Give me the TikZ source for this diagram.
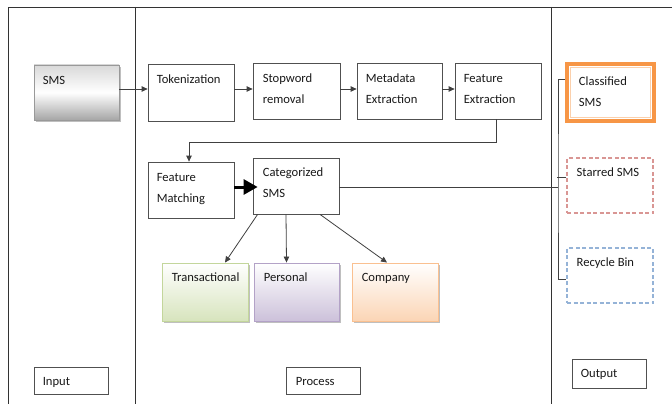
\documentclass[tikz,border=0pt]{standalone}
\usepackage{fontspec}
\setmainfont{Carlito}
\usetikzlibrary{arrows.meta,shadows,calc}
\definecolor{lin}{HTML}{404040}
\definecolor{boxc}{HTML}{505050}
\definecolor{orng}{HTML}{F79646}
\definecolor{grnB}{HTML}{C3D69B}
\definecolor{grnF}{HTML}{D7E4BD}
\definecolor{purB}{HTML}{B3A2C7}
\definecolor{purF}{HTML}{CCC1DA}
\definecolor{pchB}{HTML}{FAC090}
\definecolor{pchF}{HTML}{FBD5B5}
\definecolor{redD}{HTML}{D99694}
\definecolor{bluD}{HTML}{95B3D7}
\newcommand\twoln[2]{\parbox[t]{90pt}{#1\\#2}}
\begin{document}
\begin{tikzpicture}[x=1pt,y=-1pt,
  box/.style={draw=boxc, line width=0.8pt, fill=white, rectangle, inner sep=0pt, minimum width=86pt, minimum height=56pt},
  smallbox/.style={box, minimum width=74pt, minimum height=27pt},
  txt/.style={anchor=base west, inner sep=0pt, font=\fontsize{12.6}{21}\selectfont, text=black!90},
  conn/.style={draw=lin, line width=0.8pt},
  arr/.style={conn, -{Triangle[length=6pt,width=5.5pt]}},
  shd/.style={drop shadow={shadow xshift=1.5pt, shadow yshift=-1.8pt, fill=black, opacity=0.25}},
  grad/.style 2 args={draw=#1, line width=0.9pt, rectangle, minimum width=86pt, minimum height=58pt, top color=white, bottom color=#2, shd},
  dashbox/.style={draw=#1, line width=1.1pt, dash pattern=on 4pt off 2.5pt, rectangle, fill=white, minimum width=86pt, minimum height=55pt}
]
\useasboundingbox (0,0) rectangle (672,404);
\fill[white] (0,0) rectangle (672,404);

% frame
\draw[draw=black!80, line width=0.9pt] (8,404) -- (8,7) -- (672,7);
\draw[draw=black!80, line width=0.9pt] (135,7) -- (135,404);
\draw[draw=black!80, line width=0.9pt] (551,7) -- (551,404);

% input column
\node[box, draw=gray!80, minimum width=85pt, minimum height=55pt, top color=gray!30, bottom color=gray!70, middle color=white, shd] (sms) at (76.5,92.5) {};
\node[txt] (smsT) at ([shift={(9pt,-20pt)}]sms.north west) {SMS};
\node[smallbox] (inp) at (71,380.5) {};
\node[txt] (inpT) at ([shift={(9pt,-19pt)}]inp.north west) {Input};

% process column
\node[box, minimum height=57pt] (tok) at (191,92.5) {};
\node[txt] (tokT) at ([shift={(9pt,-20pt)}]tok.north west) {Tokenization};
\node[box, minimum width=87pt] (stop) at (296.5,91) {};
\node[txt] (stopT) at ([shift={(10pt,-20pt)}]stop.north west) {\twoln{Stopword}{removal}};
\node[box, minimum width=85pt] (meta) at (399.5,91) {};
\node[txt] (metaT) at ([shift={(9pt,-20pt)}]meta.north west) {\twoln{Metadata}{Extraction}};
\node[box] (fext) at (498,91) {};
\node[txt] (fextT) at ([shift={(9pt,-20pt)}]fext.north west) {\twoln{Feature}{Extraction}};
\node[box] (fmatch) at (191,190) {};
\node[txt] (fmatchT) at ([shift={(9pt,-20pt)}]fmatch.north west) {\twoln{Feature}{Matching}};
\node[box] (cat) at (296,186) {};
\node[txt] (catT) at ([shift={(10pt,-19pt)}]cat.north west) {\twoln{Categorized}{SMS}};

\node[grad={grnB}{grnF}] (trans) at (205,292) {};
\node[txt] (transT) at ([shift={(10pt,-19pt)}]trans.north west) {Transactional};
\node[grad={purB}{purF}, minimum width=85pt] (pers) at (296.5,292) {};
\node[txt] (persT) at ([shift={(10pt,-19pt)}]pers.north west) {Personal};
\node[grad={pchB}{pchF}] (comp) at (395,292) {};
\node[txt] (compT) at ([shift={(10pt,-19pt)}]comp.north west) {Company};

\node[smallbox] (proc) at (323,380.5) {};
\node[txt] (procT) at ([shift={(10pt,-19pt)}]proc.north west) {Process};

% output column
\node[rectangle, draw=orng, line width=4.5pt, fill=white, minimum width=87pt, minimum height=57pt, inner sep=0pt] (cls) at (610.5,92.5) {};
\draw[orng!45, line width=0.9pt] ([shift={(6,6)}]cls.north west) rectangle ([shift={(-6,-6)}]cls.south east);
\node[txt] (clsT) at ([shift={(14pt,-24pt)}]cls.north west) {\twoln{Classified}{SMS}};
\node[dashbox=redD] (star) at (610,185.5) {};
\node[txt] (starT) at ([shift={(10pt,-19pt)}]star.north west) {Starred SMS};
\node[dashbox=bluD] (rec) at (610,275.5) {};
\node[txt] (recT) at ([shift={(10pt,-19pt)}]rec.north west) {Recycle Bin};
\node[smallbox, minimum height=29pt] (outp) at (609,373.5) {};
\node[txt] (outpT) at ([shift={(9pt,-19pt)}]outp.north west) {Output};

% connectors
\draw[arr] ([yshift=3.5pt]sms.east) -- ([yshift=3.5pt]sms.east -| tok.west);
\draw[arr] ([yshift=3.5pt]tok.east) -- ([yshift=3.5pt]tok.east -| stop.west);
\draw[arr] ([yshift=2pt]stop.east) -- ([yshift=2pt]meta.west);
\draw[arr] ([yshift=2pt]meta.east) -- ([yshift=2pt]fext.west);
\coordinate (bend) at (189,142);
\draw[arr] ([xshift=-2pt]fext.south) |- (bend) -- (bend |- fmatch.north);
\draw[line width=3pt, -{Triangle[length=14pt,width=15pt]}] ([yshift=3pt]fmatch.east) -- ([shift={(5pt,-1pt)}]cat.west);
\draw[arr] ([xshift=5pt]cat.south west) -- ([xshift=20pt]trans.north);
\draw[arr] ([xshift=-10pt]cat.south) -- ([xshift=-10pt]pers.north);
\draw[arr] ([xshift=24pt]cat.south) -- ([xshift=-8pt]comp.north);

\coordinate (br) at (558,187);
\draw[conn] ([yshift=-1pt]cat.east) -- (br);
\draw[conn] ($(cls.west)+(0,-13.5)$) -| (br) |- ($(rec.west)+(0,3.5)$);
\draw[conn] ($(star.west)+(0,-8.5)$) -- ($(star.west)+(-9,-8.5)$);
\end{tikzpicture}
\end{document}
